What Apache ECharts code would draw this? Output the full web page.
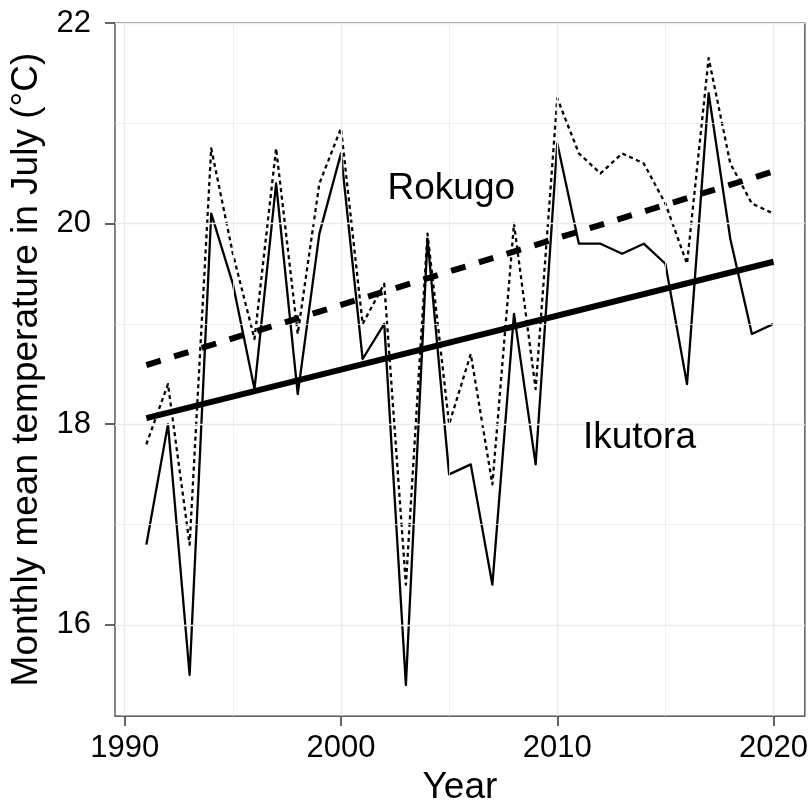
<!DOCTYPE html>
<html>
<head>
<meta charset="utf-8">
<title>July mean temperature, Rokugo and Ikutora</title>
<script src="https://cdn.jsdelivr.net/npm/echarts@6/dist/echarts.min.js"></script>
<style>
  html, body { margin: 0; padding: 0; background: #fff; }
  #chart { width: 811px; height: 811px; }
</style>
</head>
<body>
<div id="chart"></div>
<script>
// Observation years
const years = [1991, 1992, 1993, 1994, 1995, 1996, 1997, 1998, 1999, 2000,
               2001, 2002, 2003, 2004, 2005, 2006, 2007, 2008, 2009, 2010,
               2011, 2012, 2013, 2014, 2015, 2016, 2017, 2018, 2019, 2020];

// Monthly mean temperature in July (°C)
const ikutora = [16.8, 18.0, 15.5, 20.1, 19.4, 18.35, 20.4, 18.3, 19.9, 20.7,
                 18.65, 19.0, 15.4, 19.85, 17.5, 17.6, 16.4, 19.1, 17.6, 20.8,
                 19.8, 19.8, 19.7, 19.8, 19.6, 18.4, 21.3, 19.85, 18.9, 19.0];
const rokugo  = [17.8, 18.4, 16.8, 20.75, 19.7, 18.85, 20.75, 18.9, 20.4, 20.95,
                 19.0, 19.4, 16.4, 19.9, 18.0, 18.7, 17.4, 20.0, 18.35, 21.25,
                 20.7, 20.5, 20.7, 20.6, 20.2, 19.6, 21.65, 20.6, 20.2, 20.1];

// Linear trend end points (first and last year)
const trendYears = [1991, 2020];
const ikutoraTrend = [18.06, 19.62];
const rokugoTrend  = [18.59, 20.52];

// Tick positions and grid lines
const xTicks = [1990, 2000, 2010, 2020];
const xMinor = [1995, 2005, 2015];
const yTicks = [16, 18, 20, 22];
const yMinor = [17, 19, 21];

// Station name annotations
const labelNames = ['Rokugo', 'Ikutora'];
const labelX = [2005.1, 2013.8];
const labelY = [20.35, 17.86];

const FONT = "'Liberation Sans', Arial, Helvetica, sans-serif";
const pairs = (xs, ys) => xs.map((x, i) => [x, ys[i]]);

const gridLines = [].concat(
  xTicks.map(v => ({ xAxis: v, lineStyle: { width: 1.4 } })),
  xMinor.map(v => ({ xAxis: v, lineStyle: { width: 0.8 } })),
  yTicks.map(v => ({ yAxis: v, lineStyle: { width: 1.4 } })),
  yMinor.map(v => ({ yAxis: v, lineStyle: { width: 0.8 } }))
);

const chart = echarts.init(document.getElementById('chart'), null, { renderer: 'canvas' });

chart.setOption({
  animation: false,
  backgroundColor: '#ffffff',
  grid: {
    left: 115, right: 5, top: 23, height: 695,
    show: true, borderColor: '#333333', borderWidth: 1.2, backgroundColor: 'transparent'
  },
  xAxis: {
    type: 'value',
    min: 1989.55, max: 2021.45,
    name: 'Year',
    nameLocation: 'middle',
    nameGap: 49,
    nameTextStyle: { fontFamily: FONT, fontSize: 37, color: '#000' },
    axisLine: { show: false },
    axisTick: { show: true, customValues: xTicks, length: 10, lineStyle: { color: '#333', width: 1.5 } },
    axisLabel: { customValues: xTicks, fontFamily: FONT, fontSize: 31, color: '#000', margin: 17,
                 formatter: v => String(v) },
    splitLine: { show: false }
  },
  yAxis: {
    type: 'value',
    min: 15.09, max: 22.0,
    name: 'Monthly mean temperature in July (°C)',
    nameLocation: 'middle',
    nameGap: 61,
    nameRotate: 90,
    nameTextStyle: { fontFamily: FONT, fontSize: 37, color: '#000' },
    axisLine: { show: false },
    axisTick: { show: true, customValues: yTicks, length: 10, lineStyle: { color: '#333', width: 1.5 } },
    axisLabel: { customValues: yTicks, fontFamily: FONT, fontSize: 31, color: '#000', margin: 24,
                 formatter: v => String(v) },
    splitLine: { show: false }
  },
  series: [
    {
      // panel grid lines
      type: 'line', data: [], z: 0, silent: true,
      markLine: {
        silent: true, symbol: 'none', animation: false,
        label: { show: false },
        lineStyle: { color: '#ebebeb', type: 'solid' },
        data: gridLines
      }
    },
    {
      name: 'Rokugo', type: 'line', data: pairs(years, rokugo),
      showSymbol: false, symbol: 'none', z: 3,
      lineStyle: { color: '#000', width: 2.3, type: [4, 3.5], cap: 'butt', join: 'round' }
    },
    {
      name: 'Ikutora', type: 'line', data: pairs(years, ikutora),
      showSymbol: false, symbol: 'none', z: 4,
      lineStyle: { color: '#000', width: 2.3, type: 'solid', cap: 'butt', join: 'round' }
    },
    {
      name: 'Rokugo trend', type: 'line', data: pairs(trendYears, rokugoTrend),
      showSymbol: false, symbol: 'none', z: 5,
      lineStyle: { color: '#000', width: 6, type: [15, 14], cap: 'butt' }
    },
    {
      name: 'Ikutora trend', type: 'line', data: pairs(trendYears, ikutoraTrend),
      showSymbol: false, symbol: 'none', z: 5,
      lineStyle: { color: '#000', width: 6, type: 'solid', cap: 'butt' }
    },
    {
      // station names placed in data coordinates
      name: 'labels', type: 'custom', z: 6, silent: true,
      data: labelNames.map((n, i) => [labelX[i], labelY[i], i]),
      renderItem: (params, api) => {
        const pt = api.coord([api.value(0), api.value(1)]);
        return {
          type: 'text',
          x: pt[0], y: pt[1],
          style: {
            text: labelNames[api.value(2)],
            fill: '#000',
            font: '37px ' + FONT,
            align: 'center',
            verticalAlign: 'middle'
          }
        };
      }
    }
  ]
});
</script>
</body>
</html>
